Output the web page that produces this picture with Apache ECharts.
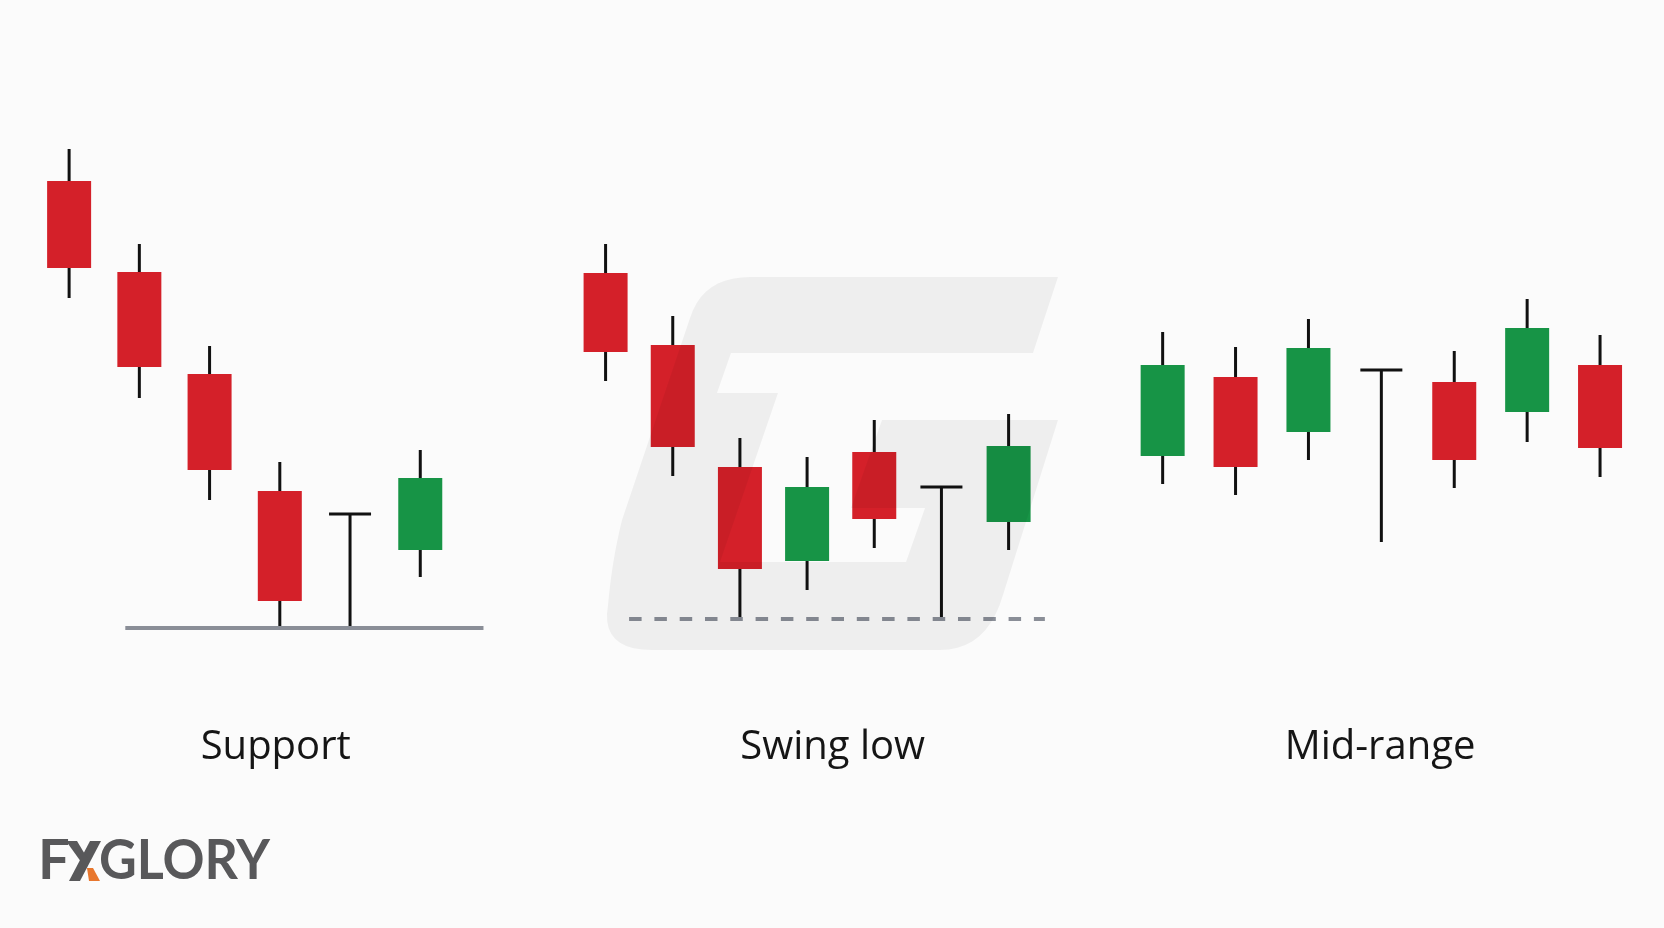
<!DOCTYPE html>
<html>
<head>
<meta charset="utf-8">
<script src="https://cdn.jsdelivr.net/npm/echarts@6/dist/echarts.min.js"></script>
<style>
html,body{margin:0;padding:0;background:#fbfbfb;}
#chart{width:1664px;height:928px;}
</style>
</head>
<body>
<div id="chart"></div>
<script>
// ---- data (prices) ----
const panelTitles = ['Support', 'Swing low', 'Mid-range'];
// each candle: [open, close, low, high]
const supportCandles = [
  [51.9, 43.2, 40.2, 55.1],
  [42.8, 33.3, 30.2, 45.6],
  [32.6, 23.0, 20.0, 35.4],
  [20.9, 9.9, 7.2, 23.8],
  [18.6, 18.6, 7.2, 18.6],
  [15.0, 22.2, 12.3, 25.0]
];
const swingCandles = [
  [42.7, 34.8, 31.9, 45.6],
  [35.5, 25.3, 22.4, 38.4],
  [23.3, 13.1, 8.1, 26.2],
  [13.9, 21.3, 11.0, 24.3],
  [24.8, 18.1, 15.2, 28.0],
  [21.3, 21.3, 8.1, 21.3],
  [17.8, 25.4, 15.0, 28.6]
];
const midCandles = [
  [24.4, 33.5, 21.6, 36.8],
  [32.3, 23.3, 20.5, 35.3],
  [26.8, 35.2, 24.0, 38.1],
  [33.0, 33.0, 15.8, 33.0],
  [31.8, 24.0, 21.2, 34.9],
  [28.8, 37.2, 25.8, 40.1],
  [33.5, 25.2, 22.3, 36.5]
];
// horizontal levels: [price, fromIndex, toIndex]
const supportLevel = [7.2, 0.8, 5.9];
const swingLowLevel = [8.1, 0.35, 6.54];
const logoText = ['F', 'GLORY'];

const RED = '#d42029';
const GREEN = '#179446';
const INK = '#111111';

function toCustom(arr) {
  return arr.map((c, i) => [i, c[0], c[1], c[2], c[3]]);
}

function renderCandle(params, api) {
  const x = api.value(0), o = api.value(1), c = api.value(2), l = api.value(3), h = api.value(4);
  const pO = api.coord([x, o]), pC = api.coord([x, c]);
  const pL = api.coord([x, l]), pH = api.coord([x, h]);
  const children = [{
    type: 'line',
    shape: { x1: pH[0], y1: pH[1], x2: pL[0], y2: pL[1] },
    style: { stroke: INK, lineWidth: 3, lineCap: 'butt' }
  }];
  if (o === c) {
    children.push({
      type: 'line',
      shape: { x1: pO[0] - 21, y1: pO[1], x2: pO[0] + 21, y2: pO[1] },
      style: { stroke: INK, lineWidth: 3 }
    });
  } else {
    children.push({
      type: 'rect',
      shape: { x: pO[0] - 22, y: Math.min(pO[1], pC[1]), width: 44, height: Math.abs(pO[1] - pC[1]) },
      style: { fill: c > o ? GREEN : RED }
    });
  }
  return { type: 'group', children };
}

const grids = [
  { left: 34, top: 100, width: 456.5, height: 600 },
  { left: 572, top: 100, width: 476.9, height: 600 },
  { left: 1126.2, top: 100, width: 510.3, height: 600 }
];
const xRanges = [[-0.5, 6.0], [-0.5, 6.6], [-0.5, 6.5]];

const xAxes = xRanges.map((r, i) => ({
  type: 'value', gridIndex: i, min: r[0], max: r[1], show: false
}));
const yAxes = grids.map((g, i) => ({
  type: 'value', gridIndex: i, min: 0, max: 60, show: false
}));

const candleSets = [supportCandles, swingCandles, midCandles];
const series = [];
candleSets.forEach((set, i) => {
  series.push({
    type: 'custom', xAxisIndex: i, yAxisIndex: i,
    renderItem: renderCandle,
    encode: { x: 0, y: [1, 2, 3, 4] },
    data: toCustom(set),
    z: 3,
    silent: true
  });
});
series.push({
  type: 'line', xAxisIndex: 0, yAxisIndex: 0,
  data: [[supportLevel[1], supportLevel[0]], [supportLevel[2], supportLevel[0]]],
  symbol: 'none', z: 4, silent: true,
  lineStyle: { color: '#8a8e97', width: 4 }
});
series.push({
  type: 'line', xAxisIndex: 1, yAxisIndex: 1,
  data: [[swingLowLevel[1], swingLowLevel[0]], [swingLowLevel[2], swingLowLevel[0]]],
  symbol: 'none', z: 4, silent: true,
  lineStyle: { color: '#8a8e97', width: 4, type: [12.5, 12.8], cap: 'butt' }
});

// helper: outline with quadratic corners -> polygon points
function outline(cmds) {
  const pts = [];
  let cur = null;
  cmds.forEach(cmd => {
    if (cmd.length === 2) { pts.push(cmd); cur = cmd; }
    else {
      const [cx, cy, ex, ey] = cmd;
      for (let k = 1; k <= 10; k++) {
        const t = k / 10, u = 1 - t;
        pts.push([u * u * cur[0] + 2 * u * t * cx + t * t * ex, u * u * cur[1] + 2 * u * t * cy + t * t * ey]);
      }
      cur = [ex, ey];
    }
  });
  return pts;
}

const titleX = [275.7, 832.7, 1380];
const graphic = [];
// watermark "G"
graphic.push({
  type: 'polygon', z: 100, silent: true,
  shape: {
    points: outline([
      [690, 318], [703, 277, 750, 277], [1058, 277], [1033, 353], [731, 353], [717, 393],
      [778, 393], [720, 562], [906, 562], [925, 508], [851, 508], [882, 420], [1058, 420],
      [1003, 595], [987, 650, 940, 650], [652, 650], [600, 650, 608, 605], [612, 560, 622, 520]
    ])
  },
  style: { fill: 'rgba(0,0,0,0.05)' }
});
panelTitles.forEach((t, i) => {
  graphic.push({
    type: 'text', x: titleX[i], y: 747.5, z: 101, silent: true,
    style: { text: t, fontSize: 40, fontFamily: '"Open Sans", "Noto Sans", sans-serif', fill: '#151515', align: 'center', verticalAlign: 'middle' }
  });
});
// logo
const LOGO = '#58585a';
graphic.push({
  type: 'text', x: 38, y: 861, z: 101, silent: true,
  style: { text: logoText[0], fontSize: 56, fontWeight: 'bold', fontFamily: 'Lato, "Noto Sans", sans-serif', fill: LOGO, align: 'left', verticalAlign: 'middle' }
});
graphic.push({
  type: 'polygon', z: 101, silent: true,
  shape: { points: [[90, 841], [101, 841], [80, 881], [69, 881]] },
  style: { fill: LOGO }
});
graphic.push({
  type: 'polygon', z: 101, silent: true,
  shape: { points: [[66, 841], [77, 841], [89, 861], [84, 866]] },
  style: { fill: LOGO }
});
graphic.push({
  type: 'polygon', z: 101, silent: true,
  shape: { points: [[87, 868], [93, 868], [100, 881], [89, 881]] },
  style: { fill: '#e8772e' }
});
graphic.push({
  type: 'text', x: 99, y: 861, z: 101, silent: true, scaleX: 0.93,
  style: { text: logoText[1], fontSize: 56, fontWeight: 'bold', fontFamily: 'Lato, "Noto Sans", sans-serif', fill: LOGO, align: 'left', verticalAlign: 'middle' }
});

const chart = echarts.init(document.getElementById('chart'), null, { renderer: 'canvas' });
chart.setOption({
  backgroundColor: '#fbfbfb',
  animation: false,
  grid: grids,
  xAxis: xAxes,
  yAxis: yAxes,
  series: series,
  graphic: graphic
});
</script>
</body>
</html>
